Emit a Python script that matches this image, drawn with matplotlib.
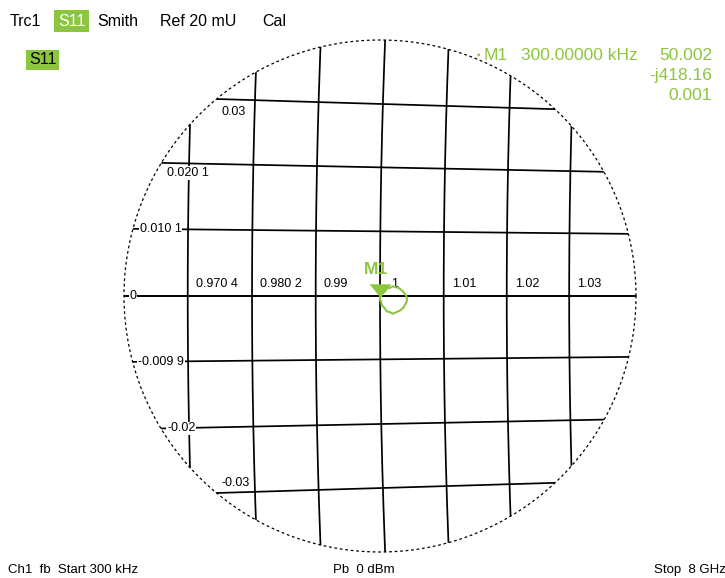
import numpy as np
import matplotlib
matplotlib.use("Agg")
import matplotlib.pyplot as plt
from matplotlib.patches import Circle
from matplotlib.path import Path

plt.rcParams['font.family'] = ['Liberation Sans', 'DejaVu Sans']

# Smith chart grid, zoomed: display radius = 20 mU
ref_mu = 20.0
r_values = [0.9704, 0.9802, 0.99, 1.0, 1.01, 1.02, 1.03]
r_labels = ["0.970 4", "0.980 2", "0.99", "1", "1.01", "1.02", "1.03"]
x_values = [0.03, 0.0201, 0.0101, 0.0, -0.0099, -0.02, -0.03]
x_labels = ["0.03", "0.020 1", "0.010 1", "0", "-0.009 9", "-0.02", "-0.03"]

# S11 trace, reflection coefficient in mU (re, im)
trace_re = [0.02, 0.08, 0.21, 0.40, 0.53, 0.80, 1.02, 1.27, 1.46, 1.74, 1.86,
            2.05, 2.10, 2.09, 1.93, 1.82, 1.54, 1.35, 1.00, 0.80, 0.53, 0.33,
            0.14, 0.09, 0.00, 0.02]
trace_im = [-0.05, 0.02, 0.25, 0.37, 0.61, 0.64, 0.76, 0.67, 0.64, 0.41, 0.27,
            0.02, -0.25, -0.45, -0.72, -0.92, -1.15, -1.23, -1.39, -1.27, -1.19,
            -0.92, -0.72, -0.45, -0.30, -0.05]

marker_lines = ["50.002", "-j418.16", "0.001"]

GREEN = '#8cc63f'
PX = ref_mu / 256.0          # mU per pixel
PT = 0.72                     # points per pixel at dpi 100

fig = plt.figure(figsize=(7.25, 5.78), dpi=100)
ax = fig.add_axes([0, 0, 1, 1])
ax.set_xlim(-380 * PX, (725 - 380) * PX)
ax.set_ylim(-(578 - 296) * PX, 296 * PX)
ax.set_aspect('equal')
ax.axis('off')


def gamma(z):
    return (z - 1) / (z + 1) * 1000.0


boundary = Circle((0, 0), ref_mu, transform=ax.transData, facecolor='none',
                  edgecolor='none')
ax.add_patch(boundary)

# constant resistance circles
xs_dense = np.linspace(-0.08, 0.08, 800)
for r in r_values:
    g = gamma(r + 1j * xs_dense)
    ln, = ax.plot(g.real, g.imag, color='black', lw=1.25, zorder=2)
    ln.set_clip_path(boundary)

# constant reactance circles
rs_dense = np.linspace(0.9, 1.1, 800)
for x in x_values:
    g = gamma(rs_dense + 1j * x)
    ln, = ax.plot(g.real, g.imag, color='black', lw=1.4 if x == 0 else 1.25, zorder=2)
    ln.set_clip_path(boundary)

# outer circle
theta = np.linspace(0, 2 * np.pi, 721)
ax.plot(ref_mu * np.cos(theta), ref_mu * np.sin(theta), color='black', lw=0.9,
        linestyle=(0, (2.2, 2.2)), zorder=3)

lbl_box = dict(facecolor='white', edgecolor='none', pad=0.5)

# resistance labels just above the real axis
for r, lab in zip(r_values, r_labels):
    g = gamma(r + 0j)
    dx = 11 if lab == "1" else 8
    ax.annotate(lab, (g.real, 0), xytext=(dx * PT, 12 * PT), textcoords='offset points',
                ha='left', va='center', fontsize=9, bbox=lbl_box, zorder=4)

# reactance labels at the left edge of the circle
x_label_dy = {0.03: -13, 0.0201: -10, -0.03: 10}
for x, lab in zip(x_values, x_labels):
    g = gamma(rs_dense + 1j * x)
    inside = np.abs(g) <= ref_mu
    g0 = g[inside][0]
    ax.annotate(lab, (g0.real, g0.imag), xytext=(5 * PT, x_label_dy.get(x, 0) * PT),
                textcoords='offset points', ha='left', va='center', fontsize=9,
                bbox=lbl_box, zorder=4)

# measured trace
ax.plot(trace_re, trace_im, color=GREEN, lw=1.5, zorder=5)

# marker M1 at first point
tri = Path([(-0.83, 1.0), (0.83, 1.0), (0.0, 0.0), (-0.83, 1.0)])
ax.plot(trace_re[0], trace_im[0], marker=tri, markersize=19, color=GREEN,
        markeredgewidth=0, zorder=6)
ax.annotate("M1", (trace_re[0], trace_im[0]), xytext=(-4 * PT, 27 * PT),
            textcoords='offset points', ha='center', va='center', fontsize=12.5,
            fontweight='bold', color=GREEN, zorder=6)

# header
hy = 1 - 21 / 578
fig.text(10 / 725, hy, "Trc1", fontsize=11.5, va='center', ha='left')
fig.text(58 / 725, hy, "S11", fontsize=11.5, va='center', ha='left', color='white',
         bbox=dict(facecolor=GREEN, edgecolor='none', pad=2.5))
fig.text(97 / 725, hy, "Smith", fontsize=11.5, va='center', ha='left')
fig.text(160 / 725, hy, "Ref 20 mU", fontsize=11.5, va='center', ha='left')
fig.text(262 / 725, hy, "Cal", fontsize=11.5, va='center', ha='left')
fig.text(29 / 725, 1 - 60 / 578, "S11", fontsize=11.5, va='center', ha='left', color='black',
         bbox=dict(facecolor=GREEN, edgecolor='none', pad=2.0))

# marker readout
fig.text(477 / 725, 1 - 55 / 578, "\u25aa", fontsize=7, va='center', ha='left', color=GREEN)
fig.text(484 / 725, 1 - 55 / 578, "M1", fontsize=12.5, va='center', ha='left', color=GREEN)
fig.text(521 / 725, 1 - 55 / 578, "300.00000 kHz", fontsize=12.5, va='center', ha='left',
         color=GREEN)
for i, s in enumerate(marker_lines):
    fig.text(712 / 725, 1 - (55 + 20.5 * i) / 578, s, fontsize=12.5, va='center',
             ha='right', color=GREEN)

# footer
fig.text(8 / 725, 1 - 570 / 578, "Ch1  fb  Start 300 kHz", fontsize=9.5, va='center', ha='left')
fig.text(333 / 725, 1 - 570 / 578, "Pb  0 dBm", fontsize=9.5, va='center', ha='left')
fig.text(654 / 725, 1 - 570 / 578, "Stop  8 GHz", fontsize=9.5, va='center', ha='left')

fig.savefig("out.png", dpi=100)
